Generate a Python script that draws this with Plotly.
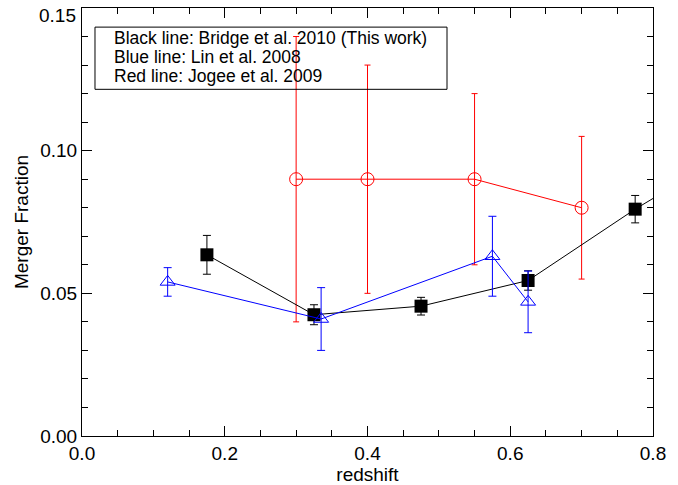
import plotly.graph_objects as go

# Bridge et al. 2010 (black)
bridge_z = [0.175, 0.325, 0.475, 0.625, 0.775, 0.925]
bridge_f = [0.0635, 0.0425, 0.0455, 0.0545, 0.0795, 0.102]
bridge_err = [0.0068, 0.0035, 0.0031, 0.0034, 0.0048, 0.006]

# Lin et al. 2008 (blue)
lin_z = [0.12, 0.335, 0.575, 0.625]
lin_f = [0.054, 0.041, 0.063, 0.047]
lin_err = [0.005, 0.011, 0.014, 0.0108]

# Jogee et al. 2009 (red)
jogee_z = [0.30, 0.40, 0.55, 0.70]
jogee_f = [0.090, 0.090, 0.090, 0.080]
jogee_err = [0.050, 0.040, 0.030, 0.025]

y_ticks = [0.0, 0.05, 0.10, 0.15]
y_ticktext = ["0.00", "0.05", "0.10", ""]
top_label = "0.15"

legend_lines = ["Black line: Bridge et al. 2010 (This work)",
                "Blue line: Lin et al. 2008",
                "Red line: Jogee et al. 2009"]
legend_y = [0.1395, 0.1328, 0.1260]

FONT = "Liberation Sans, Arial, Helvetica"

fig = go.Figure()

fig.add_trace(go.Scatter(
    x=jogee_z, y=jogee_f, mode="lines+markers",
    line=dict(color="red", width=1),
    marker=dict(symbol="circle-open", size=13, color="red", line=dict(width=1)),
    error_y=dict(type="data", array=jogee_err, color="red", thickness=1, width=3),
    showlegend=False, cliponaxis=True))

fig.add_trace(go.Scatter(
    x=bridge_z, y=bridge_f, mode="lines+markers",
    line=dict(color="black", width=1),
    marker=dict(symbol="square", size=13, color="black"),
    error_y=dict(type="data", array=bridge_err, color="black", thickness=1, width=4),
    showlegend=False, cliponaxis=True))

fig.add_trace(go.Scatter(
    x=lin_z, y=lin_f, mode="lines+markers",
    line=dict(color="blue", width=1),
    marker=dict(symbol="triangle-up-open", size=13, color="blue", line=dict(width=1)),
    error_y=dict(type="data", array=lin_err, color="blue", thickness=1, width=4),
    showlegend=False, cliponaxis=True))

# legend box
fig.add_shape(type="rect", xref="x", yref="y",
              x0=0.0182, x1=0.5114, y0=0.1215, y1=0.1433,
              line=dict(color="black", width=1), fillcolor="rgba(0,0,0,0)")
for txt, yy in zip(legend_lines, legend_y):
    fig.add_annotation(xref="x", yref="y", x=0.0425, y=yy,
                       text=txt, showarrow=False,
                       xanchor="left", yanchor="middle", align="left",
                       font=dict(family=FONT, size=17.5, color="black"))

# top y tick label, kept inside the page
fig.add_annotation(xref="paper", yref="y", x=0, y=y_ticks[-1], text=top_label,
                   showarrow=False, xanchor="right", yanchor="top",
                   xshift=-4, yshift=5,
                   font=dict(family=FONT, size=19, color="black"))

fig.update_xaxes(range=[0, 0.8], tickvals=[0, 0.2, 0.4, 0.6, 0.8], tickformat=".1f",
                 ticks="inside", ticklen=10, tickwidth=1, tickcolor="black",
                 minor=dict(dtick=0.05, ticks="inside", ticklen=6, tickcolor="black"),
                 showline=True, linecolor="black", linewidth=1, mirror="ticks",
                 showgrid=False, zeroline=False, ticklabeloverflow="allow",
                 automargin=False,
                 title=dict(text="redshift", standoff=2, font=dict(size=19)),
                 tickfont=dict(size=19))
fig.update_yaxes(range=[0, 0.15], tickvals=y_ticks, ticktext=y_ticktext,
                 ticks="inside", ticklen=10, tickwidth=1, tickcolor="black",
                 minor=dict(dtick=0.01, ticks="inside", ticklen=6, tickcolor="black"),
                 showline=True, linecolor="black", linewidth=1, mirror="ticks",
                 showgrid=False, zeroline=False, ticklabeloverflow="allow",
                 automargin=False,
                 title=dict(text="Merger Fraction", standoff=6, font=dict(size=19)),
                 tickfont=dict(size=19))

fig.update_layout(width=678, height=485,
                  margin=dict(l=82, r=25, t=8, b=49),
                  plot_bgcolor="white", paper_bgcolor="white",
                  font=dict(family=FONT, color="black"))

fig.write_html("out.html")
